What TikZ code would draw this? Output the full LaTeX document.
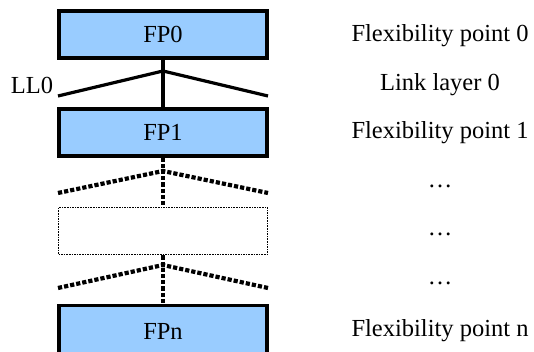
\documentclass[tikz,border=0pt]{standalone}
\usepackage{fontspec}
\setmainfont{Liberation Serif}
\begin{document}
\begin{tikzpicture}[x=1pt,y=-1pt,
  fpbox/.style={draw=black, line width=3.2pt, fill=fpblue, minimum width=208pt, minimum height=47pt, inner sep=0pt, font=\fontsize{24.5}{28}\selectfont},
  emptybox/.style={draw=black, line width=1.8pt, dash pattern=on 1.6pt off 1pt, minimum width=209pt, minimum height=47pt, inner sep=0pt},
  link/.style={line width=3.2pt},
  dotlink/.style={line width=4.2pt, dash pattern=on 4.2pt off 2pt},
  lbl/.style={font=\fontsize{24.5}{28}\selectfont, inner sep=0pt}
]
\definecolor{fpblue}{HTML}{99CCFF}
\useasboundingbox (0,0) rectangle (534,352);
% boxes
\node[fpbox] (fp0) at (163,34.5) {FP0};
\node[fpbox] (fp1) at (163,132.5) {FP1};
\node[emptybox] (mid) at (163,231) {};
\node[fpbox, minimum height=52pt] (fpn) at (163,331.5) {FPn};
% link layer 0
\coordinate (j0) at (163,71);
\coordinate (j0l) at (58,96);
\coordinate (j0r) at (268,96);
\draw[link] (fp0.south) -- (fp1.north);
\draw[link] (j0l) -- (j0) -- (j0r);
% dotted link 1
\coordinate (j1) at (163,171);
\coordinate (j1l) at (58,193);
\coordinate (j1r) at (268,193);
\draw[dotlink] (fp1.south) -- (mid.north);
\draw[dotlink] (j1l) -- (j1) -- (j1r);
% dotted link 2
\coordinate (j2) at (163,265);
\coordinate (j2l) at (58,288);
\coordinate (j2r) at (268,288);
\draw[dotlink] (mid.south) -- (fpn.north);
\draw[dotlink] (j2l) -- (j2) -- (j2r);
% labels
\node[lbl] (ll0) at (32,85) {LL0};
\node[lbl] (t0) at (440,36) {Flexibility point 0};
\node[lbl] (t1) at (440,85) {Link layer 0};
\node[lbl] (t2) at (440,133) {Flexibility point 1};
\node[lbl] (t3) at (440,186) {\dots};
\node[lbl] (t4) at (440,234) {\dots};
\node[lbl] (t5) at (440,283) {\dots};
\node[lbl] (t6) at (440,331) {Flexibility point n};
\end{tikzpicture}
\end{document}
